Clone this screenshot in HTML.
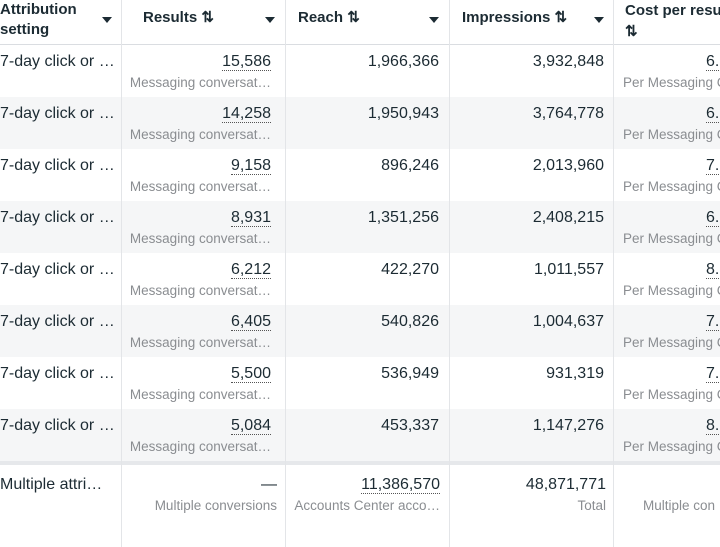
<!DOCTYPE html>
<html><head><style>
body{margin:0;width:720px;height:547px;overflow:hidden;background:#fff;font-family:"Liberation Sans",sans-serif;color:#1c2b33;position:relative}
.wrap{position:absolute;left:0;top:0;width:720px;height:547px;overflow:hidden}
.vl{position:absolute;top:0;width:1px;background:#e3e5e8;height:547px}
.hl{position:absolute;left:0;width:720px;height:1px;background:#dadde1}
.row{position:absolute;left:0;width:720px;height:52px}
.alt{background:#f5f6f7}
.t{position:absolute;white-space:nowrap;font-size:16px}
.s{position:absolute;white-space:nowrap;font-size:13.5px;color:#8a8d91;overflow:hidden}
.r{text-align:right}
.h{position:absolute;font-weight:bold;font-size:15px;white-space:nowrap;overflow:hidden}
.dd{position:absolute;width:0;height:0;border-left:5px solid transparent;border-right:5px solid transparent;border-top:6px solid #1c2b33}
.u{border-bottom:1.5px dotted #555;line-height:15px}
</style></head><body><div class="wrap">
<div class="row alt" style="top:97px"></div>
<div class="row alt" style="top:201px"></div>
<div class="row alt" style="top:305px"></div>
<div class="row alt" style="top:409px"></div>
<div class="hl" style="top:44px"></div>
<div class="hl" style="top:461px;background:#e6e8eb;height:4px"></div>
<div class="vl" style="left:121px"></div>
<div class="vl" style="left:285px"></div>
<div class="vl" style="left:449px"></div>
<div class="vl" style="left:613px"></div>

<div class="h" style="left:0;top:0;line-height:20px">Attribution<br>setting</div>
<div class="dd" style="left:102px;top:17px"></div>
<div class="h" style="left:143px;top:8px">Results ⇅</div>
<div class="dd" style="left:265px;top:17px"></div>
<div class="h" style="left:298px;top:8px">Reach ⇅</div>
<div class="dd" style="left:429px;top:17px"></div>
<div class="h" style="left:462px;top:8px">Impressions ⇅</div>
<div class="dd" style="left:594px;top:17px"></div>
<div class="h" style="left:625px;top:0;line-height:21px;width:95px">Cost per result<br>⇅</div>

<div id="rows"></div>
<script>
var d=[["15,586","1,966,366","3,932,848","6."],["14,258","1,950,943","3,764,778","6."],["9,158","896,246","2,013,960","7."],["8,931","1,351,256","2,408,215","6."],["6,212","422,270","1,011,557","8."],["6,405","540,826","1,004,637","7."],["5,500","536,949","931,319","7."],["5,084","453,337","1,147,276","8."]];
var h="";
d.forEach(function(r,i){var y=45+i*52;
h+='<div class="t" style="left:0;top:'+(y+8)+'px">7-day click or …</div>';
h+='<div class="t r" style="right:449px;top:'+(y+8)+'px"><span class="u">'+r[0]+'</span></div>';
h+='<div class="s r" style="right:449px;top:'+(y+30)+'px">Messaging conversat…</div>';
h+='<div class="t r" style="right:281px;top:'+(y+8)+'px">'+r[1]+'</div>';
h+='<div class="t r" style="right:116px;top:'+(y+8)+'px">'+r[2]+'</div>';
h+='<div class="t" style="left:706px;top:'+(y+8)+'px"><span class="u">'+r[3]+'</span></div>';
h+='<div class="s" style="left:623px;width:97px;top:'+(y+30)+'px">Per Messaging C</div>';
});
document.getElementById("rows").innerHTML=h;
</script>
<div class="t" style="left:0;top:476px">Multiple attri…</div>
<div class="t r" style="right:443px;top:476px">—</div>
<div class="s r" style="right:443px;top:498px">Multiple conversions</div>
<div class="t r" style="right:280px;top:476px"><span class="u">11,386,570</span></div>
<div class="s r" style="right:280px;top:498px">Accounts Center acco…</div>
<div class="t r" style="right:114px;top:476px">48,871,771</div>
<div class="s r" style="right:114px;top:498px">Total</div>
<div class="s" style="left:643px;width:77px;top:498px">Multiple con</div>
</div></body></html>
